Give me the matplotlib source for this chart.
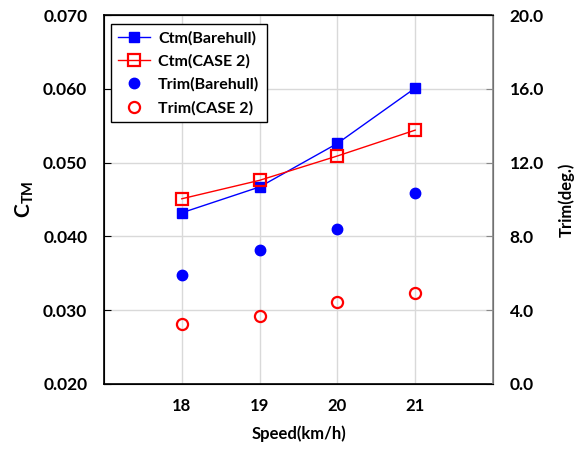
import matplotlib.pyplot as plt
from matplotlib.ticker import FormatStrFormatter, MultipleLocator

plt.rcParams['font.family'] = ['Lato', 'DejaVu Sans']
plt.rcParams['font.weight'] = 'bold'
plt.rcParams['axes.labelweight'] = 'bold'
plt.rcParams['mathtext.fontset'] = 'custom'
plt.rcParams['mathtext.rm'] = 'Lato:bold'
plt.rcParams['mathtext.bf'] = 'Lato:bold'

speed = [18, 19, 20, 21]
ctm_barehull = [0.0432, 0.0467, 0.0526, 0.0601]
ctm_case2 = [0.0451, 0.0476, 0.0509, 0.0544]
trim_barehull = [5.9, 7.25, 8.4, 10.35]
trim_case2 = [3.25, 3.7, 4.45, 4.95]

fig = plt.figure(figsize=(5.86, 4.51), dpi=100)
ax = fig.add_axes([0.1775, 0.1486, 0.6638, 0.8181])
ax2 = ax.twinx()

l1, = ax.plot(speed, ctm_barehull, color='blue', lw=1, marker='s', ms=7,
              mfc='blue', mec='blue', label='Ctm(Barehull)')
l2, = ax.plot(speed, ctm_case2, color='red', lw=1, marker='s', ms=8,
              mfc='none', mec='red', mew=1.6, label='Ctm(CASE 2)')
l3, = ax2.plot(speed, trim_barehull, ls='none', marker='o', ms=7.5,
               mfc='blue', mec='blue', label='Trim(Barehull)')
l4, = ax2.plot(speed, trim_case2, ls='none', marker='o', ms=8,
               mfc='none', mec='red', mew=1.6, label='Trim(CASE 2)')

ax.set_xlim(17, 22)
ax.set_xticks(speed)
ax.set_ylim(0.02, 0.07)
ax.yaxis.set_major_locator(MultipleLocator(0.01))
ax.yaxis.set_major_formatter(FormatStrFormatter('%.3f'))
ax2.set_ylim(0, 20)
ax2.yaxis.set_major_locator(MultipleLocator(4))
ax2.yaxis.set_major_formatter(FormatStrFormatter('%.1f'))

ax.grid(True, color='#d9d9d9', lw=1)
ax.set_axisbelow(True)
ax.tick_params(axis='y', direction='in', length=5, labelsize=12.5, pad=12)
ax.tick_params(axis='x', length=0, labelsize=12, pad=10)
ax2.tick_params(axis='y', direction='in', length=5, labelsize=12.5, pad=12,
                color='#888888')
for s in ['left', 'bottom', 'top']:
    ax.spines[s].set_color('black')
    ax.spines[s].set_linewidth(1.2)
ax2.spines['right'].set_color('#888888')
ax2.spines['right'].set_linewidth(1.2)

ax.set_xlabel('Speed(km/h)', fontsize=12, labelpad=8)
ax.set_ylabel(r'$\mathbf{C}_{\mathbf{TM}}$', fontsize=15, labelpad=5)
ax2.set_ylabel('Trim(deg.)', fontsize=12, labelpad=10)

leg = ax.legend(handles=[l1, l2, l3, l4], loc='upper left',
                bbox_to_anchor=(0.01, 0.985), fontsize=11.5, fancybox=False,
                edgecolor='black', framealpha=1, borderpad=0.45, labelspacing=0.55,
                handlelength=2.0, handletextpad=0.5, borderaxespad=0.2)
leg.get_frame().set_linewidth(1)

fig.savefig('out.png', dpi=100)
